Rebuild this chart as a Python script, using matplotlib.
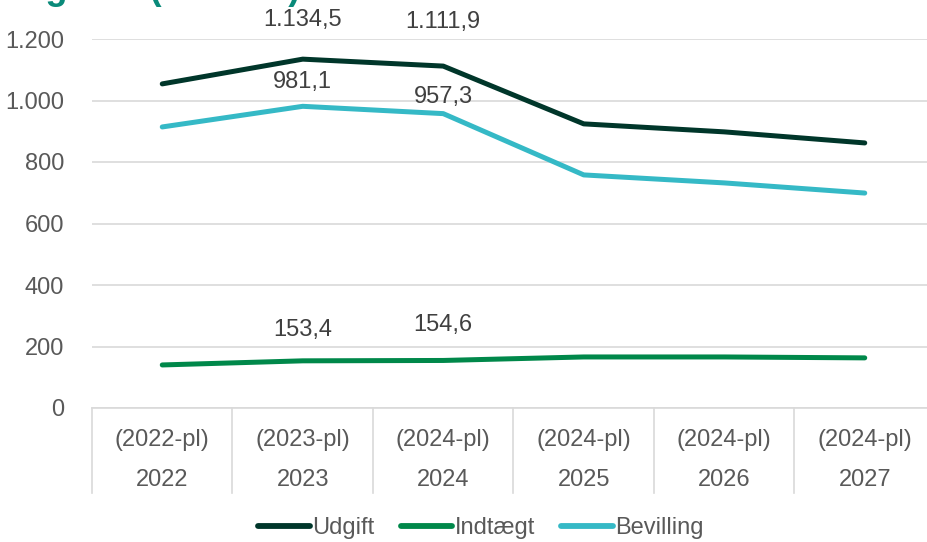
import matplotlib
matplotlib.use("Agg")
import matplotlib.pyplot as plt

# Data (mio. kr.)
years = ["2022", "2023", "2024", "2025", "2026", "2027"]
price_levels = ["(2022-pl)", "(2023-pl)", "(2024-pl)", "(2024-pl)", "(2024-pl)", "(2024-pl)"]
udgift = [1054.0, 1134.5, 1111.9, 924.0, 898.0, 862.0]
indtaegt = [140.0, 153.4, 154.6, 166.0, 166.0, 163.0]
bevilling = [914.0, 981.1, 957.3, 758.0, 732.0, 699.0]

# indices of points with data labels
label_idx = [1, 2]

plt.rcParams['font.family'] = ['Liberation Sans', 'DejaVu Sans']

fig = plt.figure(figsize=(9.28, 5.42), dpi=100)
ax = fig.add_axes([92 / 928, 134 / 542, 836 / 928, 369 / 542])

series = [
    ("Udgift", udgift, "#00362a", [39, 44]),
    ("Indtægt", indtaegt, "#00884a", [31, 35]),
    ("Bevilling", bevilling, "#35b9c6", [24, 17]),
]

x = list(range(len(years)))
for name, vals, color, offs in series:
    ax.plot(x, vals, color=color, lw=3.6, solid_capstyle="round",
            solid_joinstyle="round", label=name, zorder=3)
    for i, off in zip(label_idx, offs):
        lbl = f"{vals[i]:,.1f}".replace(",", "X").replace(".", ",").replace("X", ".")
        ax.annotate(lbl, (i, vals[i]), xytext=(0, off * 0.72), textcoords="offset points",
                    ha="center", va="center", fontsize=17, color="#404040",
                    annotation_clip=False)

ax.set_ylim(0, 1200)
ax.set_xlim(-0.5, -0.5 + 836 / 140.5)
yt = list(range(0, 1201, 200))
ax.set_yticks(yt)
ax.set_yticklabels([f"{v:,}".replace(",", ".") for v in yt], fontsize=17, color="#595959")
ax.tick_params(axis="y", length=0, pad=20)
ax.grid(axis="y", color="#d9d9d9", lw=1.2)
ax.set_axisbelow(True)
for s in ["top", "right", "left"]:
    ax.spines[s].set_visible(False)
ax.spines["bottom"].set_color("#d9d9d9")
ax.spines["bottom"].set_linewidth(1.2)

# category axis: two-level labels with separators
ax.set_xticks([])
trans = ax.get_xaxis_transform()
sep_depth = 85 / 369
for b in [i - 0.5 for i in range(len(years) + 1)]:
    ax.plot([b, b], [0, -sep_depth], transform=trans, color="#d9d9d9",
            lw=1.2, clip_on=False)
for i, (yr, pl) in enumerate(zip(years, price_levels)):
    ax.text(i, -32 / 369, pl, transform=trans, ha="center", va="center",
            fontsize=17, color="#595959")
    ax.text(i, -72 / 369, yr, transform=trans, ha="center", va="center",
            fontsize=17, color="#595959")

leg = fig.legend(loc="center", bbox_to_anchor=(0.5 + 17 / 928, 14 / 542), ncol=3,
                 frameon=False, fontsize=17, handlelength=2.2, handletextpad=0.1,
                 columnspacing=1.1, labelcolor="#595959")
for h in leg.get_lines():
    h.set_linewidth(4.2)

# title, mostly cut off at the top edge (as in the source image)
fig.text(-83 / 928, 1.0 + 1 / 542, "Bevilling i alt (mio. kr.)", fontsize=26,
         fontweight="bold", color="#0a8a7a", ha="left", va="baseline")

fig.savefig("out.png", dpi=100)
